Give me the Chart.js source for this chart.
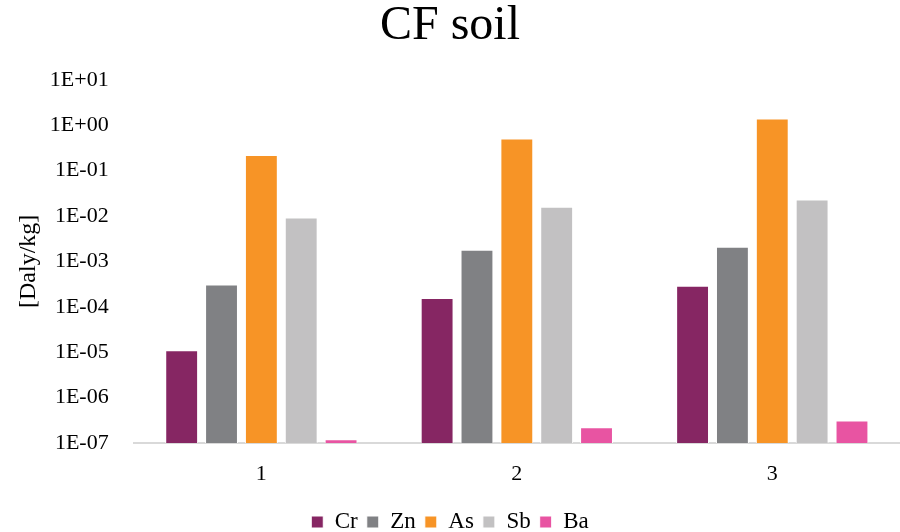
<!DOCTYPE html>
<html>
<head>
<meta charset="utf-8">
<script src="https://cdn.jsdelivr.net/npm/chart.js@4/dist/chart.umd.min.js"></script>
<style>
html,body{margin:0;padding:0;background:#fff;}
#wrap{width:900px;height:532px;position:relative;}
</style>
</head>
<body>
<div id="wrap"><canvas id="c" width="900" height="532"></canvas></div>
<script>
const categories = ["1", "2", "3"];
const seriesNames = ["Cr", "Zn", "As", "Sb", "Ba"];
const crValues = [1.1e-5, 1.55e-4, 2.9e-4];
const znValues = [3.1e-4, 1.8e-3, 2.1e-3];
const asValues = [2.2e-1, 5.1e-1, 1.4];
const sbValues = [9.3e-3, 1.6e-2, 2.3e-2];
const baValues = [1.2e-7, 2.2e-7, 3.1e-7];
const tickValues = [1e-7, 1e-6, 1e-5, 1e-4, 1e-3, 1e-2, 1e-1, 1, 10];
const tickLabels = ["1E-07", "1E-06", "1E-05", "1E-04", "1E-03", "1E-02", "1E-01", "1E+00", "1E+01"];
const colors = ["#862663", "#808184", "#F79426", "#C2C1C2", "#E854A2"];
const allValues = [crValues, znValues, asValues, sbValues, baValues];

const FONT = "'Liberation Serif', 'Times New Roman', serif";

new Chart(document.getElementById('c'), {
  type: 'bar',
  data: {
    labels: categories,
    datasets: seriesNames.map((n, i) => ({
      label: n,
      data: allValues[i],
      backgroundColor: colors[i],
      borderColor: '#ffffff',
      borderWidth: 1,
      categoryPercentage: 0.78,
      barPercentage: 0.825
    }))
  },
  options: {
    responsive: false,
    animation: false,
    layout: { padding: { left: 0, right: 0, top: 0, bottom: -11.5 } },
    plugins: {
      title: {
        display: true,
        text: 'CF soil',
        color: '#000',
        font: { family: FONT, size: 48, weight: 'normal', lineHeight: 1.1 },
        padding: { top: 0, bottom: 27 }
      },
      legend: {
        position: 'bottom',
        labels: {
          color: '#000',
          font: { family: FONT, size: 23 },
          boxWidth: 12,
          boxHeight: 12,
          padding: 9
        }
      },
      tooltip: { enabled: false }
    },
    scales: {
      x: {
        grid: { display: false },
        border: { display: true, color: '#D9D9D9', width: 2 },
        ticks: { color: '#000', font: { family: FONT, size: 22 }, padding: 10 },
        title: {
          display: true,
          text: ' ',
          font: { size: 1 },
          padding: { top: 3, bottom: 0 }
        }
      },
      y: {
        type: 'logarithmic',
        min: 1e-7,
        max: 10,
        grid: { display: false },
        border: { display: false },
        afterBuildTicks: (scale) => {
          scale.ticks = tickValues.map(v => ({ value: v }));
        },
        ticks: {
          color: '#000',
          font: { family: FONT, size: 22 },
          padding: 17,
          callback: (v) => {
            const idx = tickValues.findIndex(t => Math.abs(Math.log10(t) - Math.log10(v)) < 1e-6);
            return idx >= 0 ? tickLabels[idx] : '';
          }
        },
        title: {
          display: true,
          text: '[Daly/kg]',
          color: '#000',
          font: { family: FONT, size: 24 },
          padding: { top: 14, bottom: -10 }
        }
      }
    }
  }
});
</script>
</body>
</html>
